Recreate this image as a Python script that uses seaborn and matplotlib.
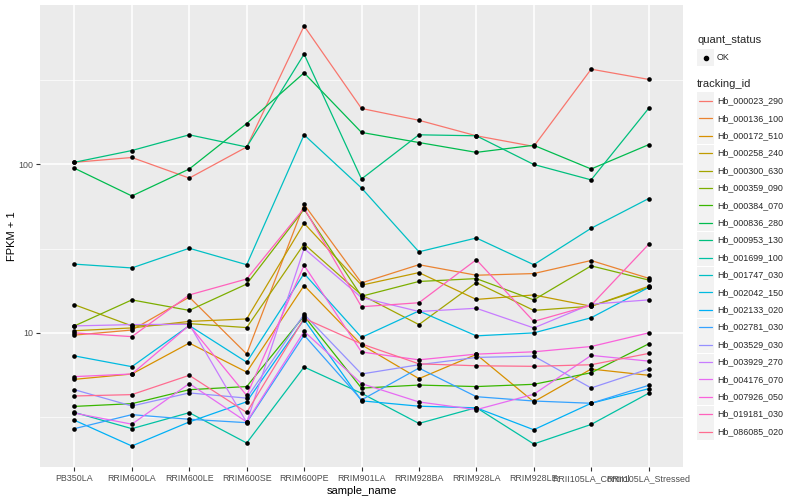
import numpy as np
import pandas as pd
import seaborn as sns
import matplotlib.pyplot as plt
from matplotlib.patches import Rectangle
from matplotlib.lines import Line2D
from matplotlib.ticker import FixedLocator, NullFormatter

# Muestras (eje x) e identificadores de los genes
samples = ["PB350LA", "RRIM600LA", "RRIM600LE", "RRIM600SE", "RRIM600PE", "RRIM901LA",
           "RRIM928BA", "RRIM928LA", "RRIM928LE", "RRII105LA_Control", "RRII105LA_Stressed"]

tracking_ids = ["Hb_000023_290", "Hb_000136_100", "Hb_000172_510", "Hb_000258_240",
                "Hb_000300_630", "Hb_000359_090", "Hb_000384_070", "Hb_000836_280",
                "Hb_000953_130", "Hb_001699_100", "Hb_001747_030", "Hb_002042_150",
                "Hb_002133_020", "Hb_002781_030", "Hb_003529_030", "Hb_003929_270",
                "Hb_004176_070", "Hb_007926_050", "Hb_019181_030", "Hb_086085_020"]

# FPKM + 1
hb_000023_290 = [103, 110, 83, 127, 664, 215, 183, 148, 128, 368, 320]
hb_000136_100 = [9.7, 10.4, 16.3, 7.5, 57.9, 19.8, 25.4, 22.0, 22.5, 26.9, 21.1]
hb_000172_510 = [5.3, 5.7, 8.7, 5.85, 19.1, 8.5, 5.35, 7.45, 3.9, 6.1, 5.6]
hb_000258_240 = [10.3, 10.7, 11.7, 12.1, 44.8, 19.2, 22.8, 15.8, 16.8, 14.4, 18.9]
hb_000300_630 = [14.7, 11.0, 11.35, 10.75, 33.7, 16.8, 11.2, 19.9, 13.6, 14.4, 18.6]
hb_000359_090 = [11.0, 15.7, 13.6, 19.5, 54.2, 16.5, 20.2, 21.0, 15.7, 25.0, 20.6]
hb_000384_070 = [3.66, 3.8, 4.6, 4.8, 12.6, 4.7, 4.9, 4.8, 4.95, 5.8, 8.6]
hb_000836_280 = [95, 65, 94, 175, 350, 155, 135, 118, 130, 94, 131]
hb_000953_130 = [103, 121, 150, 127, 452, 82, 150, 148, 100, 81, 215]
hb_001699_100 = [3.37, 2.7, 3.36, 2.22, 6.27, 4.38, 2.9, 3.6, 2.19, 2.86, 4.38]
hb_001747_030 = [25.6, 24.3, 31.8, 25.4, 150, 72.5, 30.3, 36.6, 25.4, 41.8, 62.7]
hb_002042_150 = [7.3, 6.3, 11.05, 6.7, 22.5, 9.4, 13.5, 9.6, 10.0, 12.3, 18.6]
hb_002133_020 = [3.03, 2.13, 2.96, 3.9, 12.0, 3.95, 3.67, 3.59, 2.66, 3.82, 4.66]
hb_002781_030 = [2.7, 3.27, 3.07, 2.93, 9.7, 4.0, 6.18, 4.18, 3.94, 3.82, 4.88]
hb_003529_030 = [4.6, 3.68, 4.4, 4.1, 12.9, 5.7, 6.47, 7.15, 7.28, 4.71, 6.1]
hb_003929_270 = [11.0, 11.2, 11.25, 2.94, 31.7, 16.2, 13.4, 14.0, 10.7, 14.8, 15.7]
hb_004176_070 = [3.34, 2.87, 5.0, 2.96, 10.2, 5.0, 3.89, 3.5, 4.32, 7.35, 6.8]
hb_007926_050 = [5.5, 5.7, 11.1, 4.25, 25.2, 7.7, 6.92, 7.48, 7.72, 8.3, 10.0]
hb_019181_030 = [10.0, 9.5, 16.8, 20.9, 55.0, 14.3, 15.1, 27.2, 11.7, 14.6, 33.5]
hb_086085_020 = [4.22, 4.3, 5.6, 3.37, 12.2, 8.6, 6.55, 6.38, 6.33, 6.47, 7.55]

series = [hb_000023_290, hb_000136_100, hb_000172_510, hb_000258_240, hb_000300_630,
          hb_000359_090, hb_000384_070, hb_000836_280, hb_000953_130, hb_001699_100,
          hb_001747_030, hb_002042_150, hb_002133_020, hb_002781_030, hb_003529_030,
          hb_003929_270, hb_004176_070, hb_007926_050, hb_019181_030, hb_086085_020]

# Paleta tipo ggplot (hue_pal con 20 colores)
colores = ["#F8766D", "#EA8331", "#D89000", "#C09B00", "#A3A500", "#7CAE00", "#39B600",
           "#00BB4E", "#00BF7D", "#00C1A3", "#00BFC4", "#00BAE0", "#00B0F6", "#35A2FF",
           "#9590FF", "#C77CFF", "#E76BF3", "#FA62DB", "#FF62BC", "#FF6C90"]

filas = []
for tid, vals in zip(tracking_ids, series):
    for s, v in zip(samples, vals):
        filas.append((tid, s, v))
df = pd.DataFrame(filas, columns=["tracking_id", "sample_name", "fpkm"])

sns.set_theme(style="darkgrid", rc={"axes.facecolor": "#EBEBEB", "grid.color": "white"})
plt.rcParams["font.family"] = ["Liberation Sans", "DejaVu Sans"]

fig = plt.figure(figsize=(8, 5), dpi=100)
ax = fig.add_axes([40 / 800, 33 / 500, 643 / 800, 462 / 500])

sns.lineplot(data=df, x="sample_name", y="fpkm", hue="tracking_id", palette=colores,
             sort=False, estimator=None, errorbar=None, legend=False, linewidth=0.9, ax=ax)
sns.scatterplot(data=df, x="sample_name", y="fpkm", color="black", s=11, marker="o",
                linewidth=0, legend=False, ax=ax, zorder=3)

ax.set_yscale("log")
lo = np.log10(df["fpkm"].min())
hi = np.log10(df["fpkm"].max())
pad = 0.05 * (hi - lo)
ax.set_ylim(10 ** (lo - pad), 10 ** (hi + pad))
ax.set_xlim(-0.6, len(samples) - 0.4)

ax.yaxis.set_major_locator(FixedLocator([10, 100]))
ax.set_yticklabels(["10", "100"])
ax.yaxis.set_minor_locator(FixedLocator([10 ** 0.5, 10 ** 1.5, 10 ** 2.5]))
ax.yaxis.set_minor_formatter(NullFormatter())
ax.grid(which="major", color="white", linewidth=1.1)
ax.grid(which="minor", axis="y", color="white", linewidth=0.5)
ax.tick_params(which="major", bottom=True, left=True, length=3, width=0.8, color="#333333",
               labelsize=6.4, labelcolor="#4D4D4D", pad=2)
ax.tick_params(which="minor", length=0)
for sp in ax.spines.values():
    sp.set_visible(False)

ax.set_xlabel("sample_name", fontsize=8, color="black", labelpad=2)
ax.set_ylabel("FPKM + 1", fontsize=8, color="black", labelpad=1)

# Leyenda manual al estilo ggplot
def fx(x):
    return x / 800

def fy(y):
    return 1 - y / 500

fig.text(fx(697), fy(40), "quant_status", fontsize=8, va="center")
fig.add_artist(Rectangle((fx(697), fy(66)), 17 / 800, 17 / 500, transform=fig.transFigure,
                         facecolor="#F2F2F2", edgecolor="none"))
fig.add_artist(Line2D([fx(705.5)], [fy(57.5)], marker="o", markersize=3, color="black",
                      transform=fig.transFigure))
fig.text(fx(717), fy(57.5), "OK", fontsize=6.4, va="center")

fig.text(fx(697), fy(84), "tracking_id", fontsize=8, va="center")
for i, (tid, c) in enumerate(zip(tracking_ids, colores)):
    yc = 101 + i * 17.4
    fig.add_artist(Rectangle((fx(697), fy(yc + 8.5)), 17 / 800, 17 / 500,
                             transform=fig.transFigure, facecolor="#F2F2F2", edgecolor="none"))
    fig.add_artist(Line2D([fx(699), fx(712)], [fy(yc), fy(yc)], color=c, linewidth=0.9,
                          transform=fig.transFigure))
    fig.text(fx(717), fy(yc), tid, fontsize=6.4, va="center")

fig.savefig("out.png", dpi=100)
